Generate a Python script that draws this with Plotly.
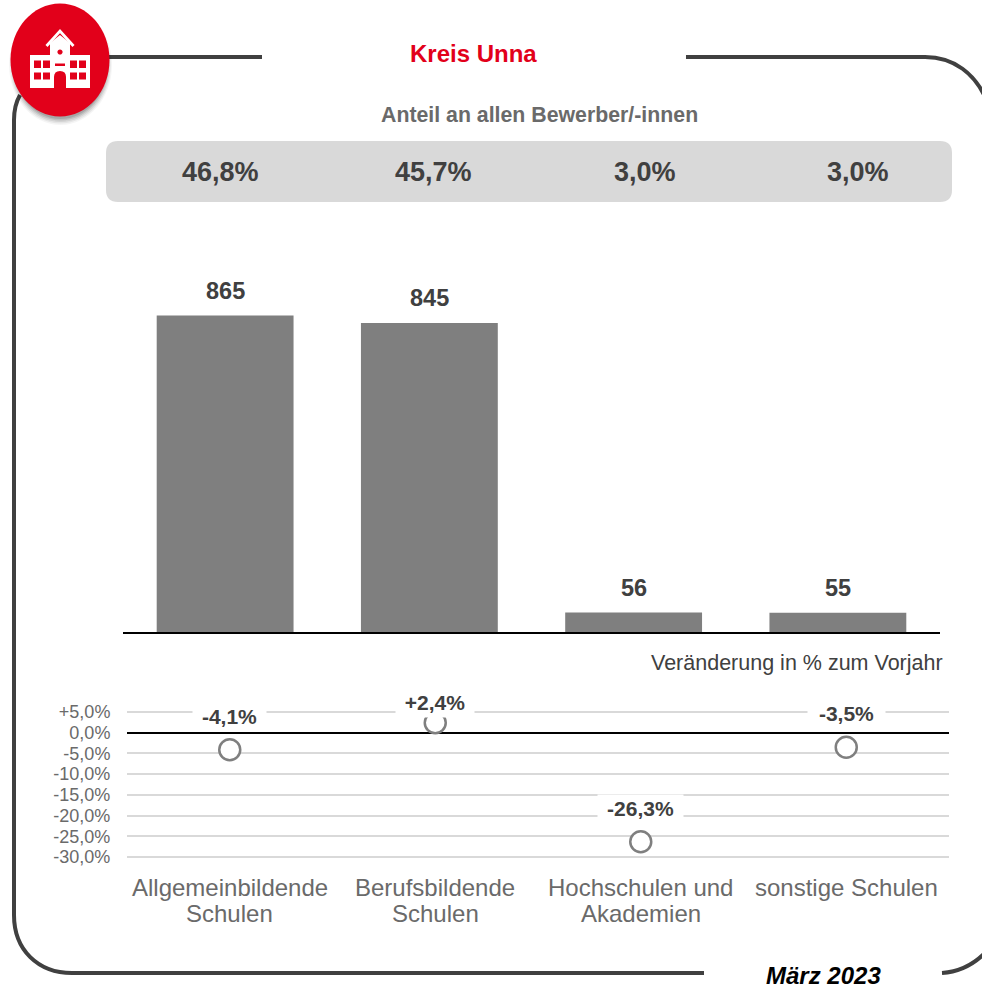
import plotly.graph_objects as go

W, H = 982, 988
categories = [["Allgemeinbildende", "Schulen"], ["Berufsbildende", "Schulen"], ["Hochschulen und", "Akademien"], ["sonstige Schulen"]]
applicants = [865, 845, 56, 55]
applicant_labels = ["865", "845", "56", "55"]
shares = ["46,8%", "45,7%", "3,0%", "3,0%"]
change = [-4.1, 2.4, -26.3, -3.5]
change_labels = ["-4,1%", "+2,4%", "-26,3%", "-3,5%"]
change_ticks = [5, 0, -5, -10, -15, -20, -25, -30]
change_ticktext = ["+5,0%", "0,0%", "-5,0%", "-10,0%", "-15,0%", "-20,0%", "-25,0%", "-30,0%"]

# label placement (style only)
label_shift = [34, 21, 34, 34]
label_box_w = [73, 78, 85, 77]
label_box_h = [26, 30, 26, 26]

FONT = "Liberation Sans, Arial, sans-serif"
DARK = "#404040"
RED = "#E2001A"
SOFT = "#6A6A6A"

def px(x): return x / W
def py(y): return 1 - y / H
def P(x, y): return f"{px(x):.5f} {py(y):.5f}"

fig = go.Figure()
fig.add_bar(x=[0, 1, 2, 3], y=applicants, width=0.67, marker=dict(color="#7F7F7F", line_width=0),
            xaxis="x", yaxis="y", showlegend=False)
fig.add_scatter(x=[0, 1, 2, 3], y=change, mode="markers", xaxis="x2", yaxis="y2", showlegend=False,
                marker=dict(size=21, color="white", line=dict(color="#7F7F7F", width=2.5)), cliponaxis=False)

shapes = []
def path(d, fill=None, line=None, width=0, layer="above", opacity=1):
    shapes.append(dict(type="path", path=d, xref="paper", yref="paper", layer=layer, opacity=opacity,
                       fillcolor=fill or "rgba(0,0,0,0)",
                       line=dict(color=line or "rgba(0,0,0,0)", width=width)))

def ell(cx, cy, rx, ry, **kw):
    k = 0.5523
    d = (f"M{P(cx-rx,cy)} C{P(cx-rx,cy-k*ry)} {P(cx-k*rx,cy-ry)} {P(cx,cy-ry)} "
         f"C{P(cx+k*rx,cy-ry)} {P(cx+rx,cy-k*ry)} {P(cx+rx,cy)} "
         f"C{P(cx+rx,cy+k*ry)} {P(cx+k*rx,cy+ry)} {P(cx,cy+ry)} "
         f"C{P(cx-k*rx,cy+ry)} {P(cx-rx,cy+k*ry)} {P(cx-rx,cy)} Z")
    path(d, **kw)

def rect(x0, y0, x1, y1, fill):
    path(f"M{P(x0,y0)} L{P(x1,y0)} L{P(x1,y1)} L{P(x0,y1)} Z", fill=fill)

# grey band
r = 12
x0, x1, y0, y1 = 106, 952, 141, 202
path(f"M{P(x0+r,y0)} L{P(x1-r,y0)} Q{P(x1,y0)} {P(x1,y0+r)} L{P(x1,y1-r)} Q{P(x1,y1)} {P(x1-r,y1)} "
     f"L{P(x0+r,y1)} Q{P(x0,y1)} {P(x0,y1-r)} L{P(x0,y0+r)} Q{P(x0,y0)} {P(x0+r,y0)} Z",
     fill="#D9D9D9", layer="below")

# frame
path(f"M{P(100,57)} L{P(262,57)}", line=DARK, width=4)
path(f"M{P(686,57)} L{P(925,57)} C{P(955,57)} {P(975,75)} {P(985,97)}", line=DARK, width=4)
path(f"M{P(20,95)} C{P(16,102)} {P(14,110)} {P(14,120)} L{P(14,915)} C{P(14,950)} {P(38,973)} {P(72,973)} L{P(704,973)}",
     line=DARK, width=4)
path(f"M{P(942,973)} C{P(958,972)} {P(972,966)} {P(985,953)}", line=DARK, width=4)

# bubble shadow + bubble
for i, a in enumerate([0.04, 0.06, 0.08, 0.10, 0.12]):
    ell(60.5, 65, 51.5 - i * 1.2, 60 - i * 1.5, fill=f"rgba(0,0,0,{a})")
ell(60, 60, 49.5, 56.5, fill=RED)

# school icon
rect(30, 55, 90, 88, "white")
path(f"M{P(50,55)} L{P(50,43)} L{P(60,35)} L{P(70,43)} L{P(70,55)} Z", fill="white")
path(f"M{P(46.5,46)} L{P(60,31)} L{P(73.5,46)}", line="white", width=2.8)
ell(60, 52, 2.6, 2.6, fill=RED)
for wx in (34, 43, 70, 79):
    rect(wx, 60.5, wx + 7, 68, RED)
    rect(wx, 72.5, wx + 7, 79.5, RED)
rect(55, 63.5, 65, 66, RED)
path(f"M{P(54,88)} L{P(54,77)} Q{P(54,71)} {P(60,71)} Q{P(66,71)} {P(66,77)} L{P(66,88)} Z", fill=RED)

ann = []
def text(x, y, s, size, color, bold=False, italic=False, anchor="center"):
    t = s
    if bold: t = f"<b>{t}</b>"
    if italic: t = f"<i>{t}</i>"
    ann.append(dict(x=px(x), y=py(y), xref="paper", yref="paper", text=t, showarrow=False, xanchor=anchor,
                    yanchor="middle", font=dict(family=FONT, size=size, color=color)))

text(473, 53.5, "Kreis Unna", 24, RED, bold=True)
text(539, 115, "Anteil an allen Bewerber/-innen", 21.3, SOFT, bold=True)
for cx, s in zip([220, 433, 645, 858], shares):
    text(cx, 172, s, 27, DARK, bold=True)
text(945, 663, "Veränderung in % zum Vorjahr", 21.5, DARK, anchor="right")
text(823, 975, "März 2023", 24, "#000000", bold=True, italic=True)

for i, (v, s) in enumerate(zip(applicants, applicant_labels)):
    ann.append(dict(x=i, y=v, xref="x", yref="y", text=f"<b>{s}</b>", showarrow=False, yshift=24.5, yanchor="middle",
                    font=dict(family=FONT, size=23.5, color=DARK)))
for i, (v, s) in enumerate(zip(change, change_labels)):
    ann.append(dict(x=i, y=v, xref="x2", yref="y2", text=f"<b>{s}</b>", showarrow=False, yshift=label_shift[i],
                    yanchor="middle", bgcolor="white", borderpad=0, width=label_box_w[i], height=label_box_h[i],
                    font=dict(family=FONT, size=21, color=DARK)))
for i, lines in enumerate(categories):
    for j, line in enumerate(lines):
        ann.append(dict(x=i, y=py(887 + 26 * j), xref="x2", yref="paper", text=line, showarrow=False, yanchor="middle",
                        font=dict(family=FONT, size=24, color=SOFT)))

fig.update_layout(
    width=W, height=H, margin=dict(l=0, r=0, t=0, b=0, autoexpand=False), paper_bgcolor="white", plot_bgcolor="white",
    annotations=ann, showlegend=False, font=dict(family=FONT),
    xaxis=dict(domain=[px(123), px(940)], range=[-0.5, 3.5], visible=True, showticklabels=False, showgrid=False,
               ticks="", zeroline=False, showline=False, fixedrange=True),
    yaxis=dict(domain=[py(633), py(266)], range=[0, 1000], visible=False, fixedrange=True),
    xaxis2=dict(domain=[px(127), px(949)], range=[-0.5, 3.5], anchor="y2", showticklabels=False, ticks="",
                showgrid=False, zeroline=False, showline=False, fixedrange=True),
    yaxis2=dict(domain=[py(859.1), py(709.9)], range=[-30.5, 5.5], anchor="x2", tickvals=change_ticks, ticktext=change_ticktext,
                tickfont=dict(family=FONT, size=18, color=SOFT), ticks="outside", ticklen=12,
                tickcolor="rgba(0,0,0,0)", gridcolor="#D9D9D9", gridwidth=1.5, zeroline=True, zerolinecolor="#000000",
                zerolinewidth=2, showline=False, fixedrange=True),
)
shapes.append(dict(type="line", xref="paper", yref="paper", x0=px(123), x1=px(940), y0=py(633), y1=py(633),
                   line=dict(color="#000000", width=2), layer="above"))
fig.update_layout(shapes=shapes)

fig.write_html("out.html", config={"displayModeBar": False},
               post_script="document.body.style.margin='0';document.body.style.overflow='hidden';")
